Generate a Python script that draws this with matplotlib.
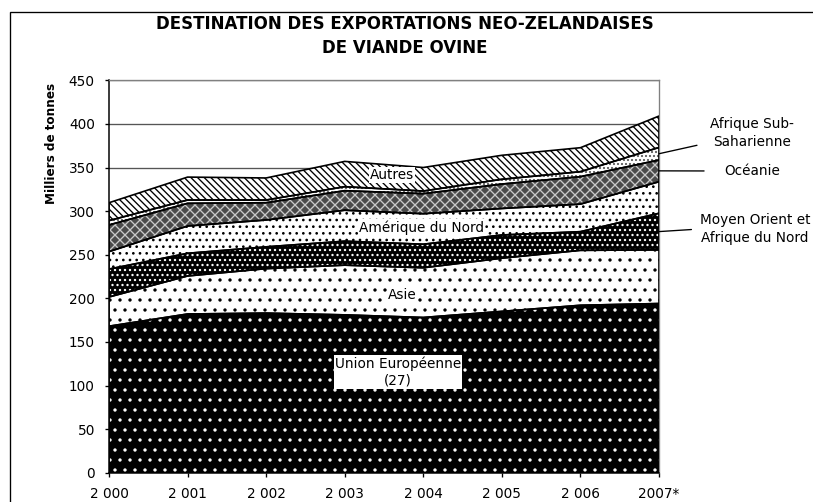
import numpy as np
import matplotlib
matplotlib.use('Agg')
import matplotlib.pyplot as plt
from matplotlib.patches import Rectangle

#%%
#--Data (milliers de tonnes)
years = ['2 000', '2 001', '2 002', '2 003', '2 004', '2 005', '2 006', '2007*']
union_europeenne = [168, 182, 183, 181, 178, 185, 192, 194]
asie = [33.5, 43.6, 51, 57, 57, 61, 63, 61.5]
moyen_orient = [32, 26, 25, 27.5, 27, 26.6, 21.4, 42]
amerique_nord = [20, 31.3, 30.8, 35.5, 35, 30.4, 31.6, 36.2]
oceanie = [30.6, 26, 19.8, 22.4, 23, 28, 31.5, 24.9]
afrique_sub = [5, 3.8, 3.1, 4.6, 3, 5.5, 5.7, 14.4]
autres = [20.5, 26.3, 25.3, 29, 27, 27.5, 27.5, 36]

series = [union_europeenne, asie, moyen_orient, amerique_nord, oceanie, afrique_sub, autres]
faces = ['black', 'white', 'black', 'white', '#4a4a4a', 'white', 'white']
hatch_cols = ['white', 'black', 'white', 'black', '#c8c8c8', '#555555', 'black']
hatches = ['..', '..', '....', '...', 'xxxx', '.....', '\\\\\\\\\\\\']

#%%
plt.rcParams['hatch.linewidth'] = 0.8
DPI = 120
fig = plt.figure(figsize=(813 / DPI, 502 / DPI), dpi=DPI)
ax = fig.add_axes([109 / 813, 29.3 / 502, 550 / 813, 392.4 / 502])

x = np.arange(len(years))
for i, s in enumerate(series):
    polys = ax.stackplot(x, *series, colors=['none'] * len(series), linewidth=0)
    for j, p in enumerate(polys):
        if j != i:
            p.remove()
    polys[i].set_facecolor(faces[i])
    polys[i].set_edgecolor(hatch_cols[i])
    polys[i].set_hatch(hatches[i])
    polys[i].set_zorder(2)

# boundary lines
edges = ax.stackplot(x, *series, colors=['none'] * len(series), edgecolor='black', linewidth=1.0)
for e in edges:
    e.set_facecolor('none')
    e.set_zorder(3)

ax.set_xlim(0, 7)
ax.set_ylim(0, 450)
ax.set_yticks(np.arange(0, 451, 50))
ax.set_xticks(x)
ax.set_xticklabels(years)
ax.yaxis.grid(True, color='#555555', linewidth=0.8)
ax.set_axisbelow(True)
ax.tick_params(axis='both', labelsize=8.2, length=2.5, width=0.8, pad=6)
for side in ['top', 'right']:
    ax.spines[side].set_color('#808080')
for side in ['left', 'bottom']:
    ax.spines[side].set_linewidth(0.9)

#labels inside the areas
box = dict(facecolor='white', edgecolor='none', pad=0.5)
ax.text(3.6, 341.4, 'Autres', ha='center', va='center', fontsize=8.2, bbox=box, zorder=5)
ax.text(3.98, 281.4, 'Amérique du Nord', ha='center', va='center', fontsize=8.2, bbox=box, zorder=5)
ax.text(3.73, 203.7, 'Asie', ha='center', va='center', fontsize=8.2, bbox=box, zorder=5)
ax.text(3.68, 115.5, 'Union Européenne\n(27)', ha='center', va='center', fontsize=8.2,
        bbox=box, zorder=5, linespacing=1.3)

#labels on the right with connectors
top = np.cumsum(np.array(series), axis=0)[:, -1]
bot = top - np.array(series)[:, -1]
mid = (top + bot) / 2
ax.annotate('Afrique Sub-\nSaharienne', xy=(7, mid[5]), xytext=(752, 502 - 133),
            textcoords='figure pixels', ha='center', va='center', fontsize=8.2,
            annotation_clip=False, linespacing=1.3,
            arrowprops=dict(arrowstyle='-', lw=0.8, color='black', shrinkA=6, shrinkB=0, relpos=(0, 0.2)))
ax.annotate('Océanie', xy=(7, mid[4]), xytext=(752, 502 - 171),
            textcoords='figure pixels', ha='center', va='center', fontsize=8.2,
            annotation_clip=False,
            arrowprops=dict(arrowstyle='-', lw=0.8, color='black', shrinkA=10, shrinkB=0, relpos=(0, 0.5)))
ax.annotate('Moyen Orient et\nAfrique du Nord', xy=(7, mid[2]), xytext=(755, 502 - 229),
            textcoords='figure pixels', ha='center', va='center', fontsize=8.2,
            annotation_clip=False, linespacing=1.3,
            arrowprops=dict(arrowstyle='-', lw=0.8, color='black', shrinkA=3, shrinkB=0, relpos=(0, 0.5)))

fig.text(405 / 813, 1 - 36 / 502, 'DESTINATION DES EXPORTATIONS NEO-ZELANDAISES\nDE VIANDE OVINE',
         ha='center', va='center', fontsize=10, fontweight='bold', linespacing=1.45)
fig.text(52 / 813, 1 - 143 / 502, 'Milliers de tonnes', rotation=90, ha='center', va='center',
         fontsize=7.2, fontweight='bold')

#outer frame
fig.add_artist(Rectangle((10 / 813, -0.1), 1.2, 1.1 - 12 / 502, transform=fig.transFigure,
                         fill=False, edgecolor='black', linewidth=0.8, clip_on=False))

plt.savefig('out.png', dpi=DPI)
plt.close()
